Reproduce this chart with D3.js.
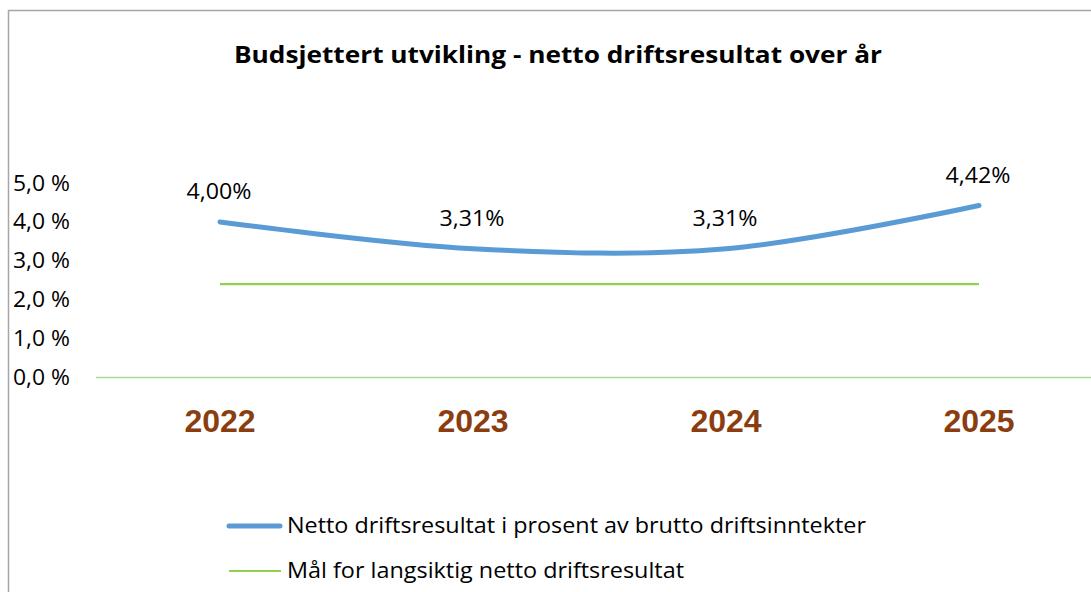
<!DOCTYPE html>
<html>
<head>
<meta charset="utf-8">
<script src="https://cdn.jsdelivr.net/npm/d3@7"></script>
<style>
  html, body { margin: 0; padding: 0; background: #fff; }
  svg { display: block; }
</style>
</head>
<body>
<svg id="chart" width="1091" height="592"></svg>
<script>
const title = "Budsjettert utvikling - netto driftsresultat over år";
const years = ["2022", "2023", "2024", "2025"];
const nettoValues = [4.00, 3.31, 3.31, 4.42];
const nettoLabels = ["4,00%", "3,31%", "3,31%", "4,42%"];
const goalValues = [2.4, 2.4, 2.4, 2.4];
const yTicks = [0, 1, 2, 3, 4, 5];
const yTickLabels = ["0,0 %", "1,0 %", "2,0 %", "3,0 %", "4,0 %", "5,0 %"];
const legendNames = ["Netto driftsresultat i prosent av brutto driftsinntekter", "Mål for langsiktig netto driftsresultat"];

const svg = d3.select("#chart");
const font = "'Open Sans', 'Noto Sans', sans-serif";

// chart border
svg.append("path")
  .attr("d", "M8.5,600 L8.5,10.5 L1100,10.5")
  .attr("fill", "none").attr("stroke", "#a6a6a6").attr("stroke-width", 1.5);

// title
svg.append("text")
  .attr("x", 558).attr("y", 63)
  .attr("text-anchor", "middle")
  .attr("font-family", font).attr("font-weight", "bold").attr("font-size", 24)
  .attr("textLength", 648).attr("lengthAdjust", "spacingAndGlyphs")
  .attr("fill", "#000").text(title);

const x = d3.scalePoint().domain(years).range([220, 979]);
const y = d3.scaleLinear().domain([0, 5]).range([377.5, 183]);

// y tick labels
svg.append("g").selectAll("text").data(yTicks).join("text")
  .attr("x", 13).attr("y", d => y(d) + 7.5)
  .attr("font-family", font).attr("font-size", 21)
  .attr("textLength", 57).attr("lengthAdjust", "spacingAndGlyphs")
  .attr("fill", "#000")
  .text((d, i) => yTickLabels[i]);

// zero axis line
svg.append("line")
  .attr("x1", 96).attr("x2", 1091)
  .attr("y1", y(0)).attr("y2", y(0))
  .attr("stroke", "#a9d98a").attr("stroke-width", 1.5);

// x labels
svg.append("g").selectAll("text").data(years).join("text")
  .attr("x", d => x(d)).attr("y", 432)
  .attr("text-anchor", "middle")
  .attr("font-family", "'Liberation Sans', Arial, sans-serif")
  .attr("font-weight", "bold").attr("font-size", 32)
  .attr("fill", "#8a3e0f")
  .text(d => d);

// goal line
const goalLine = d3.line().x((d, i) => x(years[i])).y(d => y(d));
svg.append("path").datum(goalValues)
  .attr("d", goalLine)
  .attr("fill", "none").attr("stroke", "#92d050").attr("stroke-width", 2.2);

// netto line (smoothed)
const nettoLine = d3.line().x((d, i) => x(years[i])).y(d => y(d)).curve(d3.curveCatmullRom.alpha(0));
svg.append("path").datum(nettoValues)
  .attr("d", nettoLine)
  .attr("fill", "none").attr("stroke", "#5b9bd5").attr("stroke-width", 5)
  .attr("stroke-linecap", "round");

// data labels
svg.append("g").selectAll("text").data(nettoValues).join("text")
  .attr("x", (d, i) => x(years[i]) - 1)
  .attr("y", d => y(d) - 23)
  .attr("text-anchor", "middle")
  .attr("font-family", font).attr("font-size", 21.5)
  .attr("textLength", 65).attr("lengthAdjust", "spacingAndGlyphs")
  .attr("fill", "#000")
  .text((d, i) => nettoLabels[i]);

// legend
const legend = svg.append("g");
legend.append("line").attr("x1", 229).attr("x2", 280).attr("y1", 526).attr("y2", 526)
  .attr("stroke", "#5b9bd5").attr("stroke-width", 5).attr("stroke-linecap", "round");
legend.append("line").attr("x1", 229).attr("x2", 281).attr("y1", 571).attr("y2", 571)
  .attr("stroke", "#92d050").attr("stroke-width", 2.2);
legend.append("text").attr("x", 287).attr("y", 533)
  .attr("font-family", font).attr("font-size", 21)
  .attr("textLength", 579).attr("lengthAdjust", "spacingAndGlyphs")
  .attr("fill", "#000").text(legendNames[0]);
legend.append("text").attr("x", 287).attr("y", 578)
  .attr("font-family", font).attr("font-size", 21)
  .attr("textLength", 397).attr("lengthAdjust", "spacingAndGlyphs")
  .attr("fill", "#000").text(legendNames[1]);
</script>
</body>
</html>
